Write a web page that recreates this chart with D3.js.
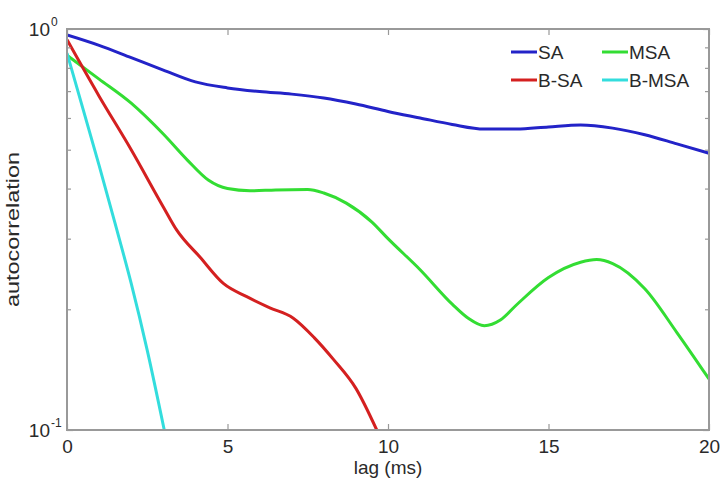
<!DOCTYPE html>
<html>
<head>
<meta charset="utf-8">
<script src="https://cdn.jsdelivr.net/npm/d3@7"></script>
<style>
  body { margin: 0; background: #fff; }
  svg { display: block; font-family: "Liberation Sans", Arial, sans-serif; }
</style>
</head>
<body>
<svg id="chart" width="723" height="478"></svg>
<script>
// data
const lagSA = [0, 1, 2, 3, 4, 5, 6, 7, 8, 9, 10, 11, 12, 13, 14, 15, 16, 17, 18, 19, 20]
const valSA = [0.966, 0.91, 0.848, 0.79, 0.738, 0.713, 0.698, 0.688, 0.673, 0.65, 0.623, 0.6, 0.578, 0.563, 0.563, 0.57, 0.576, 0.566, 0.545, 0.517, 0.49]

const lagMSA = [0, 1, 2, 3, 3.75, 4.4, 5, 5.7, 6.5, 7.5, 8, 8.7, 9.5, 10, 11, 12, 12.5, 13, 13.5, 14, 15, 16, 16.5, 17, 18, 19, 20]
const valMSA = [0.86, 0.75, 0.653, 0.547, 0.471, 0.42, 0.4, 0.395, 0.397, 0.398, 0.39, 0.368, 0.33, 0.3, 0.251, 0.206, 0.19, 0.182, 0.188, 0.205, 0.24, 0.262, 0.266, 0.26, 0.225, 0.175, 0.134]

const lagBSA = [0, 1, 2, 3, 3.42, 4.14, 4.87, 5.6, 6.3, 7.05, 7.7, 8.3, 9.0, 9.65]
const valBSA = [0.94, 0.68, 0.5, 0.36, 0.315, 0.27, 0.232, 0.215, 0.202, 0.19, 0.17, 0.15, 0.127, 0.1]

const lagBMSA = [0, 0.5, 1, 1.5, 2, 2.5, 3.03]
const valBMSA = [0.871, 0.631, 0.457, 0.327, 0.232, 0.158, 0.1]

const seriesNames = ["SA", "MSA", "B-SA", "B-MSA"]
const seriesColors = ["#2323c8", "#33dd33", "#d42020", "#33dddd"]
const xTicks = [0, 5, 10, 15, 20]
const yMajor = [1, 0.1]
const yMajorExp = ["0", "-1"]
const yMinor = [0.2, 0.3, 0.4, 0.5, 0.6, 0.7, 0.8, 0.9]

const series = [
  { name: "SA", pts: lagSA.map((d, i) => ({ x: d, y: valSA[i] })) },
  { name: "MSA", pts: lagMSA.map((d, i) => ({ x: d, y: valMSA[i] })) },
  { name: "B-SA", pts: lagBSA.map((d, i) => ({ x: d, y: valBSA[i] })) },
  { name: "B-MSA", pts: lagBMSA.map((d, i) => ({ x: d, y: valBMSA[i] })) }
]

const MARGIN = { LEFT: 67, RIGHT: 14, TOP: 29, BOTTOM: 48 }
const WIDTH = 723 - MARGIN.LEFT - MARGIN.RIGHT
const HEIGHT = 478 - MARGIN.TOP - MARGIN.BOTTOM

const svg = d3.select("#chart")
const g = svg.append("g").attr("transform", `translate(${MARGIN.LEFT}, ${MARGIN.TOP})`)

// scales
const x = d3.scaleLinear().domain([0, 20]).range([0, WIDTH])
const y = d3.scaleLog().domain([0.1, 1]).range([HEIGHT, 0])

const axisColor = "#999"
const textColor = "#2a2a2a"

// clip so curves stop at the axes
g.append("clipPath").attr("id", "plotclip")
  .append("rect").attr("width", WIDTH).attr("height", HEIGHT)

const line = d3.line()
  .x(d => x(d.x))
  .y(d => y(d.y))
  .curve(d3.curveMonotoneX)

g.append("g").attr("clip-path", "url(#plotclip)")
  .selectAll("path")
  .data(series)
  .join("path")
  .attr("fill", "none")
  .attr("stroke", (d, i) => seriesColors[i])
  .attr("stroke-width", 3)
  .attr("stroke-linejoin", "round")
  .attr("d", d => line(d.pts))

// box
g.append("rect")
  .attr("width", WIDTH).attr("height", HEIGHT)
  .attr("fill", "none").attr("stroke", axisColor).attr("stroke-width", 2)

// x axis (ticks inward, top and bottom)
const xAxisCall = d3.axisBottom(x).tickValues(xTicks).tickSize(-6).tickPadding(10).tickFormat(d3.format("d"))
const xAxis = g.append("g").attr("transform", `translate(0, ${HEIGHT})`).call(xAxisCall)
xAxis.select(".domain").remove()
xAxis.selectAll("line").attr("stroke", axisColor).attr("stroke-width", 1.2)
xAxis.selectAll("text").attr("font-size", "19px").attr("fill", textColor)
  .attr("font-family", "Liberation Sans, Arial, sans-serif")

const xTop = g.append("g").call(d3.axisTop(x).tickValues(xTicks).tickSize(-6).tickFormat(""))
xTop.select(".domain").remove()
xTop.selectAll("line").attr("stroke", axisColor).attr("stroke-width", 1.2)

// y axis ticks, left and right
const yTickVals = yMajor.concat(yMinor)
const yLeft = g.append("g").call(d3.axisLeft(y).tickValues(yTickVals).tickSize(0).tickFormat(""))
yLeft.select(".domain").remove()
yLeft.selectAll(".tick").append("line")
  .attr("x2", d => yMajor.includes(d) ? 6 : 4)
  .attr("stroke", axisColor).attr("stroke-width", 1.2)

const yRight = g.append("g").attr("transform", `translate(${WIDTH}, 0)`)
  .call(d3.axisRight(y).tickValues(yTickVals).tickSize(0).tickFormat(""))
yRight.select(".domain").remove()
yRight.selectAll(".tick").append("line")
  .attr("x2", d => yMajor.includes(d) ? -6 : -4)
  .attr("stroke", axisColor).attr("stroke-width", 1.2)

// y labels as 10^n
const yLab = g.append("g")
yMajor.forEach((v, i) => {
  yLab.append("text")
    .attr("x", -17).attr("y", y(v) + 7)
    .attr("text-anchor", "end")
    .attr("font-size", "19px").attr("fill", textColor)
    .text("10")
  yLab.append("text")
    .attr("x", -16).attr("y", y(v) - 3)
    .attr("font-size", "12px").attr("fill", textColor)
    .text(yMajorExp[i])
})

// axis titles
g.append("text")
  .attr("x", WIDTH / 2).attr("y", HEIGHT + 44)
  .attr("text-anchor", "middle")
  .attr("font-size", "19px").attr("fill", textColor)
  .text("lag (ms)")

g.append("text")
  .attr("transform", "rotate(-90)")
  .attr("x", -HEIGHT / 2).attr("y", -48)
  .attr("text-anchor", "middle")
  .attr("font-size", "19px").attr("fill", textColor)
  .attr("textLength", 155).attr("lengthAdjust", "spacingAndGlyphs")
  .text("autocorrelation")

// legend, two columns, no box
const legend = g.append("g")
const legX = [444, 535]
const legY = [23, 51]
seriesNames.forEach((name, i) => {
  const col = i % 2, row = Math.floor(i / 2)
  const lg = legend.append("g").attr("transform", `translate(${legX[col]}, ${legY[row]})`)
  lg.append("line").attr("x1", 0).attr("x2", 26)
    .attr("stroke", seriesColors[i]).attr("stroke-width", 3)
  lg.append("text").attr("x", 27).attr("y", 7)
    .attr("font-size", "19px").attr("fill", textColor)
    .text(name)
})
</script>
</body>
</html>
